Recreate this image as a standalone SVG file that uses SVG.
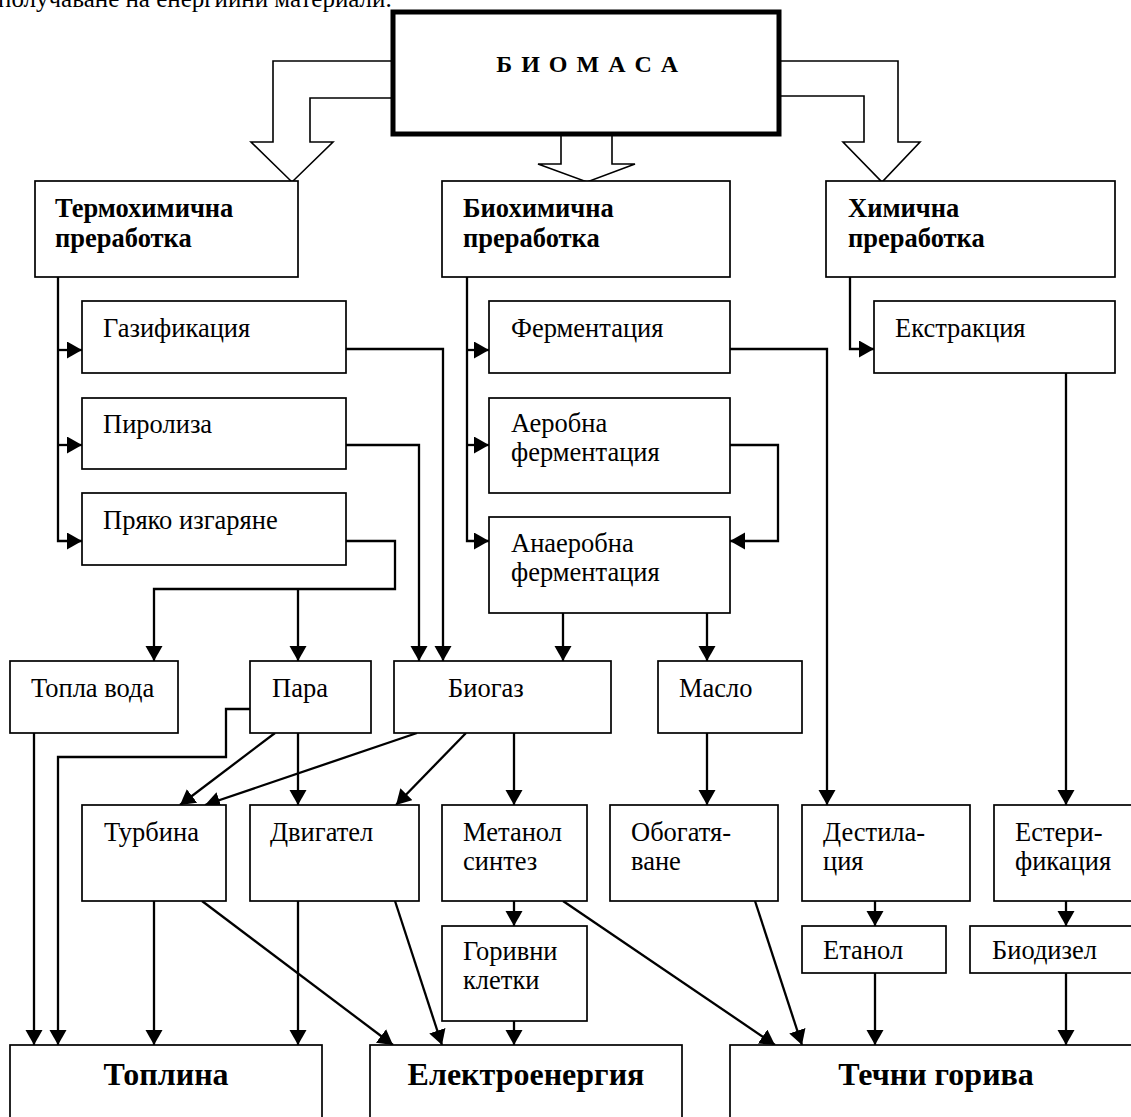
<svg xmlns="http://www.w3.org/2000/svg" width="1131" height="1117" viewBox="0 0 1131 1117">
  <defs>
    <style>
      .box { fill: #fff; stroke: #000; stroke-width: 1.7; }
      .bold-box { fill: #fff; stroke: #000; stroke-width: 5; }
      .block { fill: #fff; stroke: #000; stroke-width: 1.6; stroke-linejoin: miter; }
      text { font-family: "Liberation Serif", "Times New Roman", serif; fill: #000; }
      .p { font-size: 25px; }
      .t { font-size: 26.5px; }
      .h { font-size: 26.5px; font-weight: bold; }
      .title { font-size: 24px; font-weight: bold; text-anchor: middle; }
      .big { font-size: 32px; font-weight: bold; text-anchor: middle; }
      .c { fill: none; stroke: #000; stroke-width: 2.3; }
      .a { marker-end: url(#ah); }
    </style>
    <marker id="ah" markerUnits="userSpaceOnUse" markerWidth="16" markerHeight="18" refX="15" refY="8.5" orient="auto">
      <path d="M0,0 L15,8.5 L0,17 z" fill="#000"/>
    </marker>
  </defs>

  <rect width="1131" height="1117" fill="#fff"/>

  <!-- end of the preceding paragraph, cut by the top edge -->
  <text class="p" x="-2" y="7">получаване на енергийни материали.</text>

  <!-- hollow block arrows from the biomass box -->
  <g id="block-arrows">
    <path class="block" d="M395,61 H273 V142 H251 L292,182 L333,142 H310 V98 H395"/>
    <path class="block" d="M777,61 H898 V142 H920 L882,182 L843,142 H864 V96 H777"/>
    <path class="block" d="M561,133 V164 H538 L587,182 L635,164 H612 V133"/>
  </g>

  <g id="biomass">
    <rect class="bold-box" x="393" y="12" width="386" height="122"/>
    <text class="title" x="588" y="72" letter-spacing="1.5">Б И О М А С А</text>
  </g>

  <!-- connectors -->
  <g id="connectors">
    <!-- thermochemical branch -->
    <path class="c a" d="M58,277 V541 H82"/>
    <path class="c a" d="M58,350 H82"/>
    <path class="c a" d="M58,445 H82"/>
    <path class="c a" d="M346,349 H443 V661"/>
    <path class="c a" d="M346,445 H419 V661"/>
    <path class="c a" d="M346,541 H395 V589 H154 V661"/>
    <path class="c a" d="M298,589 V661"/>
    <!-- biochemical branch -->
    <path class="c a" d="M467,277 V541 H489"/>
    <path class="c a" d="M467,350 H489"/>
    <path class="c a" d="M467,445 H489"/>
    <path class="c a" d="M730,349 H827 V805"/>
    <path class="c a" d="M730,445 H778 V541 H730"/>
    <path class="c a" d="M563,613 V661"/>
    <path class="c a" d="M707,613 V661"/>
    <!-- chemical branch -->
    <path class="c a" d="M850,277 V349 H874"/>
    <path class="c a" d="M1066,373 V805"/>
    <!-- intermediate products -->
    <path class="c a" d="M34,733 V1045"/>
    <path class="c a" d="M250,709 H226 V757 H58 V1045"/>
    <path class="c a" d="M275,733 L180,805"/>
    <path class="c a" d="M298,733 V805"/>
    <path class="c a" d="M417,733 L205,805"/>
    <path class="c a" d="M466,733 L396,805"/>
    <path class="c a" d="M514,733 V805"/>
    <path class="c a" d="M707,733 V805"/>
    <!-- conversion to final forms -->
    <path class="c a" d="M154,901 V1045"/>
    <path class="c a" d="M202,901 L393,1045"/>
    <path class="c a" d="M298,901 V1045"/>
    <path class="c a" d="M395,901 L442,1045"/>
    <path class="c a" d="M514,901 V926"/>
    <path class="c a" d="M514,1021 V1045"/>
    <path class="c a" d="M563,901 L775,1045"/>
    <path class="c a" d="M755,901 L802,1045"/>
    <path class="c a" d="M875,901 V926"/>
    <path class="c a" d="M1066,901 V926"/>
    <path class="c a" d="M875,973 V1045"/>
    <path class="c a" d="M1066,973 V1045"/>
  </g>

  <!-- processing routes -->
  <g id="thermochemical">
    <rect class="box" x="35" y="181" width="263" height="96"/>
    <text class="h" x="55" y="217">Термохимична</text>
    <text class="h" x="55" y="247">преработка</text>
  </g>
  <g id="biochemical">
    <rect class="box" x="442" y="181" width="288" height="96"/>
    <text class="h" x="463" y="217">Биохимична</text>
    <text class="h" x="463" y="247">преработка</text>
  </g>
  <g id="chemical">
    <rect class="box" x="826" y="181" width="289" height="96"/>
    <text class="h" x="848" y="217">Химична</text>
    <text class="h" x="848" y="247">преработка</text>
  </g>

  <!-- processes -->
  <g id="gasification">
    <rect class="box" x="82" y="301" width="264" height="72"/>
    <text class="t" x="103" y="337">Газификация</text>
  </g>
  <g id="pyrolysis">
    <rect class="box" x="82" y="398" width="264" height="71"/>
    <text class="t" x="103" y="433">Пиролиза</text>
  </g>
  <g id="direct-combustion">
    <rect class="box" x="82" y="493" width="264" height="72"/>
    <text class="t" x="103" y="529">Пряко изгаряне</text>
  </g>
  <g id="fermentation">
    <rect class="box" x="489" y="301" width="241" height="72"/>
    <text class="t" x="511" y="337">Ферментация</text>
  </g>
  <g id="aerobic-fermentation">
    <rect class="box" x="489" y="398" width="241" height="95"/>
    <text class="t" x="511" y="432">Аеробна</text>
    <text class="t" x="511" y="461">ферментация</text>
  </g>
  <g id="anaerobic-fermentation">
    <rect class="box" x="489" y="517" width="241" height="96"/>
    <text class="t" x="511" y="552">Анаеробна</text>
    <text class="t" x="511" y="581">ферментация</text>
  </g>
  <g id="extraction">
    <rect class="box" x="874" y="301" width="241" height="72"/>
    <text class="t" x="895" y="337">Екстракция</text>
  </g>

  <!-- intermediate products -->
  <g id="hot-water">
    <rect class="box" x="10" y="661" width="168" height="72"/>
    <text class="t" x="31" y="697">Топла вода</text>
  </g>
  <g id="steam">
    <rect class="box" x="250" y="661" width="121" height="72"/>
    <text class="t" x="272" y="697">Пара</text>
  </g>
  <g id="biogas">
    <rect class="box" x="394" y="661" width="217" height="72"/>
    <text class="t" x="448" y="697">Биогаз</text>
  </g>
  <g id="oil">
    <rect class="box" x="658" y="661" width="144" height="72"/>
    <text class="t" x="679" y="697">Масло</text>
  </g>

  <!-- conversion steps -->
  <g id="turbine">
    <rect class="box" x="82" y="805" width="144" height="96"/>
    <text class="t" x="104" y="841">Турбина</text>
  </g>
  <g id="engine">
    <rect class="box" x="250" y="805" width="169" height="96"/>
    <text class="t" x="270" y="841">Двигател</text>
  </g>
  <g id="methanol-synthesis">
    <rect class="box" x="442" y="805" width="145" height="96"/>
    <text class="t" x="463" y="841">Метанол</text>
    <text class="t" x="463" y="870">синтез</text>
  </g>
  <g id="upgrading">
    <rect class="box" x="610" y="805" width="168" height="96"/>
    <text class="t" x="631" y="841">Обогатя-</text>
    <text class="t" x="631" y="870">ване</text>
  </g>
  <g id="distillation">
    <rect class="box" x="802" y="805" width="168" height="96"/>
    <text class="t" x="823" y="841">Дестила-</text>
    <text class="t" x="823" y="870">ция</text>
  </g>
  <g id="esterification">
    <rect class="box" x="994" y="805" width="145" height="96"/>
    <text class="t" x="1015" y="841">Естери-</text>
    <text class="t" x="1015" y="870">фикация</text>
  </g>
  <g id="fuel-cells">
    <rect class="box" x="442" y="926" width="145" height="95"/>
    <text class="t" x="463" y="960">Горивни</text>
    <text class="t" x="463" y="989">клетки</text>
  </g>
  <g id="ethanol">
    <rect class="box" x="802" y="926" width="144" height="47"/>
    <text class="t" x="823" y="959">Етанол</text>
  </g>
  <g id="biodiesel">
    <rect class="box" x="970" y="926" width="170" height="47"/>
    <text class="t" x="992" y="959">Биодизел</text>
  </g>

  <!-- final energy forms -->
  <g id="heat">
    <rect class="box" x="10" y="1045" width="312" height="90"/>
    <text class="big" x="166" y="1085">Топлина</text>
  </g>
  <g id="electricity">
    <rect class="box" x="370" y="1045" width="312" height="90"/>
    <text class="big" x="526" y="1085">Електроенергия</text>
  </g>
  <g id="liquid-fuels">
    <rect class="box" x="730" y="1045" width="412" height="90"/>
    <text class="big" x="936" y="1085">Течни горива</text>
  </g>
</svg>
